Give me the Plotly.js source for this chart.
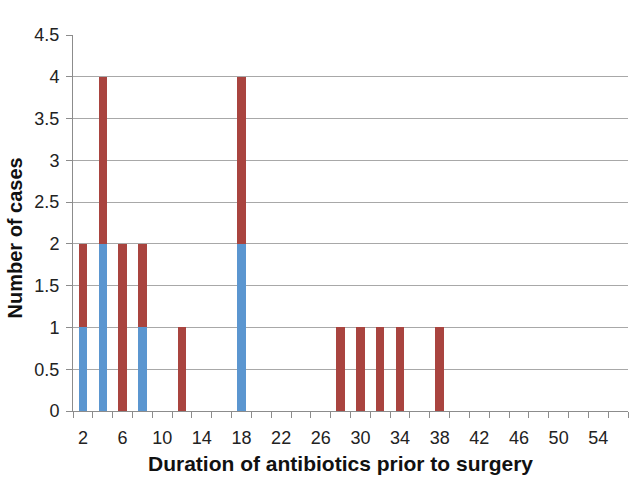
<!DOCTYPE html>
<html>
<head>
<meta charset="utf-8">
<script src="https://cdn.plot.ly/plotly-3.0.1.min.js"></script>
<style>html,body{margin:0;padding:0;background:#fff;}#chart{width:630px;height:477px;}</style>
</head>
<body>
<div id="chart"></div>
<script>
const days = [2, 4, 6, 8, 12, 18, 28, 30, 32, 34, 38];
const blueCases = [1, 2, 0, 1, 0, 2, 0, 0, 0, 0, 0];
const redCases = [1, 2, 2, 1, 1, 2, 1, 1, 1, 1, 1];
const tickLabels = [2, 6, 10, 14, 18, 22, 26, 30, 34, 38, 42, 46, 50, 54];
const yTicks = [0, 0.5, 1, 1.5, 2, 2.5, 3, 3.5, 4, 4.5];
const xTitle = 'Duration of antibiotics prior to surgery';
const yTitle = 'Number of cases';

const font = "Liberation Sans, Arial, Helvetica, sans-serif";
const traces = [
  {type: 'bar', x: days, y: blueCases, width: 0.85, marker: {color: '#5B96D0'}, name: 'A', hoverinfo: 'x+y'},
  {type: 'bar', x: days, y: redCases, width: 0.85, marker: {color: '#A9443F'}, name: 'B', hoverinfo: 'x+y'}
];
const layout = {
  width: 630, height: 477,
  margin: {l: 73, r: 2, t: 35, b: 66},
  barmode: 'stack',
  showlegend: false,
  paper_bgcolor: '#fff', plot_bgcolor: '#fff',
  font: {family: font, color: '#222', size: 18},
  xaxis: {
    range: [1, 57],
    tickmode: 'array', tickvals: tickLabels, ticktext: tickLabels.map(String),
    ticks: '', showgrid: false, zeroline: false,
    showline: true, linecolor: '#8c8c8c', linewidth: 1,
    tickfont: {size: 18, color: '#222'},
    ticklabelstandoff: 10,
    minor: {tickmode: 'linear', tick0: 1, dtick: 2, ticks: 'outside', ticklen: 6, tickcolor: '#8c8c8c', showgrid: false}
  },
  yaxis: {
    range: [0, 4.5],
    tickmode: 'array', tickvals: yTicks, ticktext: yTicks.map(String),
    ticks: 'outside', ticklen: 6, tickcolor: '#8c8c8c',
    ticklabelstandoff: 3,
    showgrid: true, gridcolor: '#a8a8a8', gridwidth: 1,
    zeroline: false, showline: true, linecolor: '#8c8c8c', linewidth: 1,
    tickfont: {size: 18, color: '#222'}
  },
  annotations: [
    {text: '<b>' + xTitle + '</b>', xref: 'paper', yref: 'paper', x: 0.4811, y: -0.1383,
     xanchor: 'center', yanchor: 'middle', showarrow: false, font: {size: 21, color: '#111'}},
    {text: '<b>' + yTitle + '</b>', xref: 'paper', yref: 'paper', x: -0.1045, y: 0.4588,
     xanchor: 'center', yanchor: 'middle', textangle: -90, showarrow: false, font: {size: 20, color: '#111'}}
  ]
};
Plotly.newPlot('chart', traces, layout, {displayModeBar: false, staticPlot: true});
</script>
</body>
</html>
